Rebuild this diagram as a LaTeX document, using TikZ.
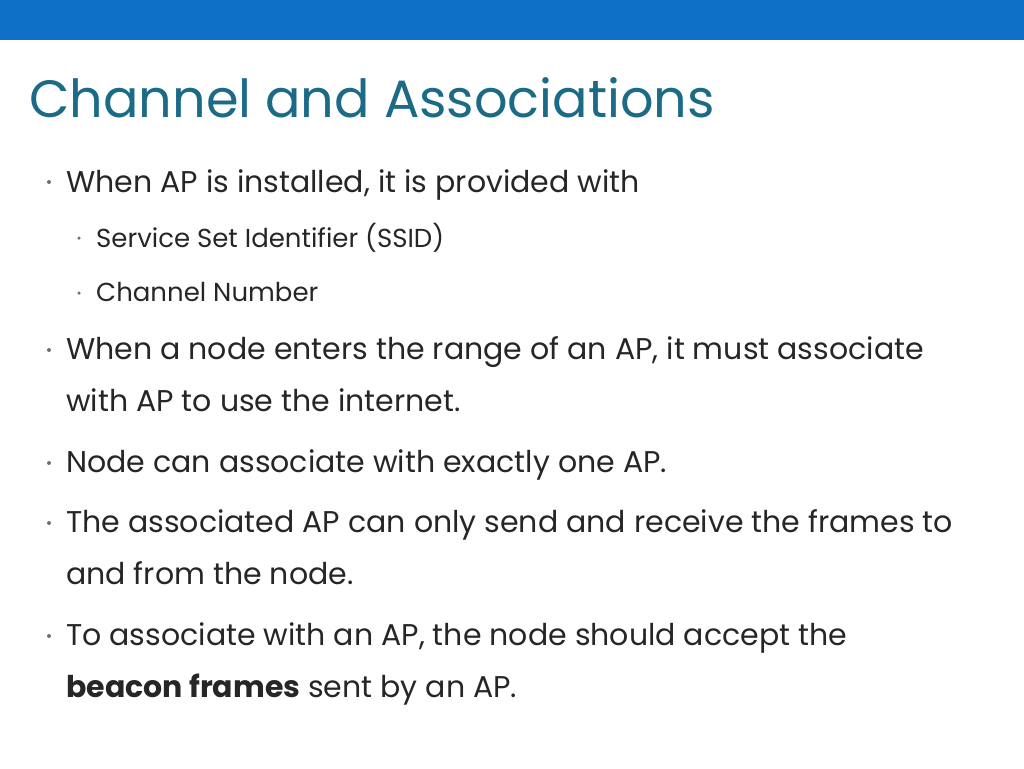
\documentclass[tikz,border=0pt]{standalone}
\usepackage{fontspec}
\setmainfont{Poppins}
\definecolor{bar}{HTML}{0E71C7}
\definecolor{ttl}{HTML}{1B6A86}
\definecolor{txt}{HTML}{262626}
\definecolor{dot}{HTML}{6F6F6F}
\begin{document}
\begin{tikzpicture}[x=1pt,y=-1pt,
  main/.style={anchor=base west,inner sep=0pt,text=txt,font=\fontsize{30}{32}\selectfont},
  sub/.style={anchor=base west,inner sep=0pt,text=txt,font=\fontsize{26}{28}\selectfont},
  bul/.style={circle,fill=dot,inner sep=0pt,minimum size=4pt}]
\useasboundingbox (0,0) rectangle (1024,768);
\fill[bar] (0,0) rectangle (1024,40);
\node[anchor=base west,inner sep=0pt,text=ttl,font=\fontsize{52.5}{55}\selectfont] (t) at (29,117) {Channel and Associations};
\node[main] (m1) at (66,192) {When AP is installed, it is provided with};
\node[sub] (s1) at (96,247) {Service Set Identifier (SSID)};
\node[sub] (s2) at (96,301) {Channel Number};
\node[main] (m2) at (66,359) {When a node enters the range of an AP, it must associate};
\node[main] (m2b) at (66,411) {with AP to use the internet.};
\node[main] (m3) at (66,472) {Node can associate with exactly one AP.};
\node[main] (m4) at (66,532) {The associated AP can only send and receive the frames to};
\node[main] (m4b) at (66,584) {and from the node.};
\node[main] (m5) at (66,645) {To associate with an AP, the node should accept the};
\node[main] (m5b) at (66,697) {\textbf{beacon frames} sent by an AP.};
\foreach \y in {182,350,463,523,636} \node[bul] at (49,\y) {};
\foreach \y in {238,293} \node[bul,minimum size=3.5pt] at (79,\y) {};
\end{tikzpicture}
\end{document}
